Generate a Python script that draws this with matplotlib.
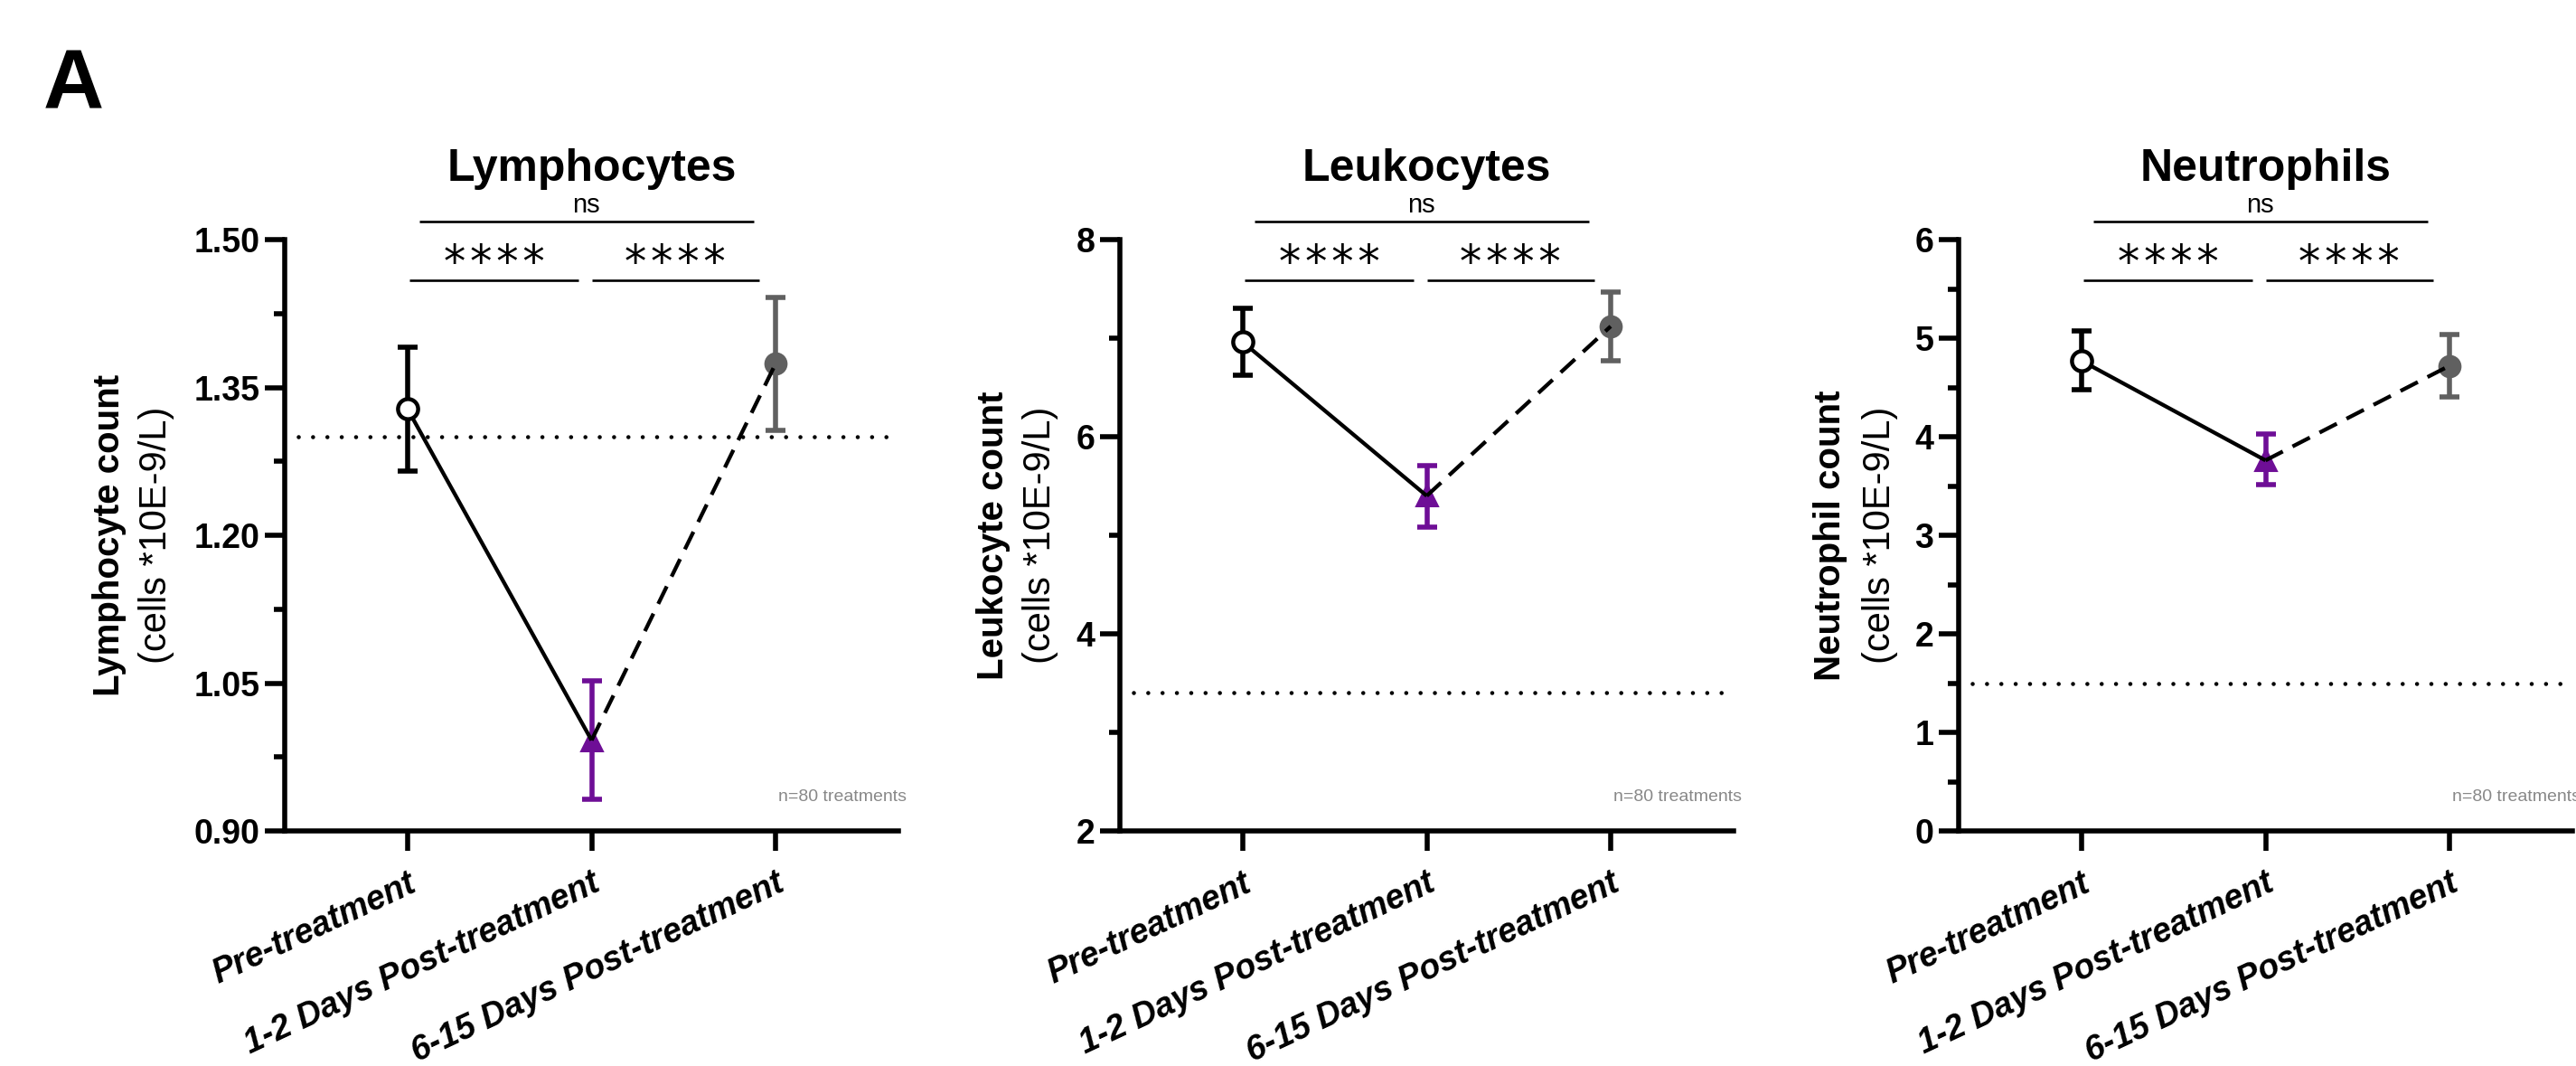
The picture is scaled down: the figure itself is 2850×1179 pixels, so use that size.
import matplotlib
matplotlib.use('Agg')
import matplotlib.pyplot as plt
import matplotlib.transforms as mtransforms
from matplotlib.ticker import MultipleLocator, FormatStrFormatter

plt.rcParams['font.family'] = ['Liberation Sans', 'DejaVu Sans']

CATEGORIES = ['Pre-treatment', '1-2 Days Post-treatment', '6-15 Days Post-treatment']
TITLES = ['Lymphocytes', 'Leukocytes', 'Neutrophils']
YLABELS = ['Lymphocyte count', 'Leukocyte count', 'Neutrophil count']
YUNIT = '(cells *10E-9/L)'
NOTE = 'n=80 treatments'

# mean and error bar ends for each time point
lymph_mean = [1.328, 0.992, 1.374]
lymph_low = [1.265, 0.932, 1.306]
lymph_high = [1.391, 1.052, 1.441]

leuko_mean = [6.96, 5.40, 7.12]
leuko_low = [6.62, 5.08, 6.77]
leuko_high = [7.30, 5.71, 7.47]

neutro_mean = [4.77, 3.76, 4.72]
neutro_low = [4.48, 3.51, 4.40]
neutro_high = [5.07, 4.03, 5.04]

# lower limit of normal range (dotted line)
reference = [1.30, 3.40, 1.50]

y_limits = [(0.90, 1.50), (2, 8), (0, 6)]
y_step = [0.15, 2, 1]
y_format = ['%.2f', '%d', '%d']

# comparisons: (group a, group b, label)
comparisons = [(0, 1, '****'), (1, 2, '****'), (0, 2, 'ns')]

POINT_COLORS = ['black', '#6E0E96', '#606060']
MARKERS = ['o', '^', 'o']
MARKER_FACES = ['white', '#6E0E96', '#606060']

W, H = 2850, 1179
fig = plt.figure(figsize=(W / 100, H / 100), dpi=100)

lefts = [315, 1239, 2167]
ax_w, ax_top, ax_bottom = 679, 265, 919
bold_off = [-194, -140, -142]
unit_off = [-142, -88, -87]

LW = 3.1
AX_LW = 4.0
data = [(lymph_mean, lymph_low, lymph_high),
        (leuko_mean, leuko_low, leuko_high),
        (neutro_mean, neutro_low, neutro_high)]

for i in range(3):
    ax = fig.add_axes([lefts[i] / W, (H - ax_bottom) / H, ax_w / W, (ax_bottom - ax_top) / H])
    mean, low, high = data[i]
    x = list(range(len(CATEGORIES)))

    for j in x:
        ax.errorbar(j, mean[j], yerr=[[mean[j] - low[j]], [high[j] - mean[j]]],
                    fmt='none', ecolor=POINT_COLORS[j], elinewidth=4.0,
                    capsize=8, capthick=4.0, zorder=2)
    # markers that sit under the connecting lines
    for j in (1, 2):
        ax.plot(j, mean[j], marker=MARKERS[j], ms=17, mfc=MARKER_FACES[j],
                mec=POINT_COLORS[j], mew=1.5, ls='none', zorder=2.5)
    ax.plot(x[:2], mean[:2], color='black', lw=LW, zorder=3, solid_capstyle='butt')
    ax.plot(x[1:], mean[1:], color='black', lw=LW, ls=(0, (5, 2.8)), zorder=3)
    ax.plot(0, mean[0], marker='o', ms=16, mfc='white', mec='black', mew=3.2,
            ls='none', zorder=4)

    ax.axhline(reference[i], xmin=0.022, xmax=1, color='black', lw=3.3,
               ls=(0, (0.01, 3.45)), dash_capstyle='round', zorder=1)

    ax.set_xlim(-0.668, 2.668)
    ax.set_ylim(*y_limits[i])
    ax.yaxis.set_major_locator(MultipleLocator(y_step[i]))
    ax.yaxis.set_minor_locator(MultipleLocator(y_step[i] / 2))
    ax.yaxis.set_major_formatter(FormatStrFormatter(y_format[i]))
    ax.set_xticks(x)
    ax.set_xticklabels(CATEGORIES, rotation=25, ha='right', va='top',
                       rotation_mode='anchor', fontsize=27, fontweight='bold',
                       fontstyle='italic')
    shift = mtransforms.ScaledTranslation(0.04, 0, fig.dpi_scale_trans)
    for lab in ax.get_xticklabels():
        lab.set_transform(lab.get_transform() + shift)
    for lab in ax.get_yticklabels():
        lab.set_fontweight('bold')
    ax.tick_params(axis='y', which='major', length=16, width=AX_LW, labelsize=27, pad=4)
    ax.tick_params(axis='y', which='minor', length=8.6, width=AX_LW)
    ax.tick_params(axis='x', which='major', length=16, width=AX_LW, pad=13)
    for side in ('top', 'right'):
        ax.spines[side].set_visible(False)
    for side in ('left', 'bottom'):
        ax.spines[side].set_linewidth(AX_LW)
    ax.patch.set_visible(False)

    # axis labels: bold name + regular unit line
    ax.text(bold_off[i] / ax_w, 0.5, YLABELS[i], transform=ax.transAxes, rotation=90,
            ha='center', va='center', fontsize=29, fontweight='bold')
    ax.text(unit_off[i] / ax_w, 0.5, YUNIT, transform=ax.transAxes, rotation=90,
            ha='center', va='center', fontsize=30)

    ax.text(0.5, 1.099, TITLES[i], transform=ax.transAxes, ha='center',
            va='baseline', fontsize=36, fontweight='bold')
    ax.text(1.013, 0.057, NOTE, transform=ax.transAxes, ha='right', va='center',
            fontsize=14, color='#888888')

    # significance bars
    trans = mtransforms.blended_transform_factory(ax.transData, ax.transAxes)
    for a, b, label in comparisons:
        if label == 'ns':
            x0, x1, yb, yt, fs, fam = a + 0.064, b - 0.12, 1.031, 1.058, 21, None
        elif a == 0:
            x0, x1, yb, yt, fs, fam = a + 0.01, b - 0.07, 0.931, 0.958, 35, 'DejaVu Sans'
        else:
            x0, x1, yb, yt, fs, fam = a, b - 0.09, 0.931, 0.958, 35, 'DejaVu Sans'
        ax.plot([x0, x1], [yb, yb], transform=trans, color='black', lw=1.9,
                clip_on=False, solid_capstyle='butt')
        kw = {'family': fam} if fam else {}
        # stars are drawn with a hair space between them
        text = '\u200a'.join(label) if fam else label
        ax.text((x0 + x1) / 2, yt, text, transform=trans, ha='center', va='center',
                fontsize=fs, clip_on=False, **kw)

fig.text(48 / W, 1 - 119 / H, 'A', fontsize=67, fontweight='bold', va='baseline')

fig.savefig('out.png', dpi=100)
